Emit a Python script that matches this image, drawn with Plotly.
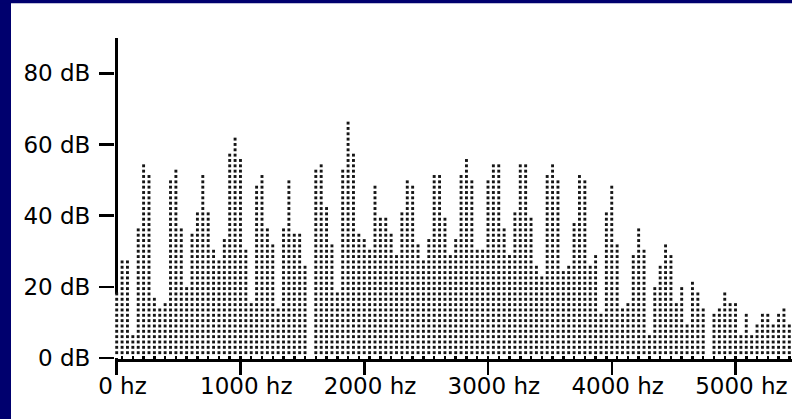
import plotly.graph_objects as go

# ---- data -------------------------------------------------------------
BIN_HZ = 11127 / 256          # spacing of the spectrum bins (Hz)
DOT_DB = 1.5                  # one dot of the dotted columns = 1.5 dB

levels_db = [
    18.0, 27.0, 27.0, 6.0, 36.0, 54.0, 51.0, 16.5, 13.5, 15.0,
    49.5, 52.5, 36.0, 19.5, 34.5, 40.5, 51.0, 40.5, 30.0, 27.0,
    33.0, 57.0, 61.5, 55.5, 30.0, 15.0, 48.0, 51.0, 36.0, 31.5,
    13.5, 36.0, 49.5, 34.5, 34.5, 25.5, 0.0, 52.5, 54.0, 42.0,
    31.5, 18.0, 52.5, 66.0, 57.0, 34.5, 33.0, 30.0, 48.0, 39.0,
    39.0, 34.5, 28.5, 40.5, 49.5, 48.0, 31.5, 27.0, 33.0, 51.0,
    51.0, 39.0, 28.5, 33.0, 51.0, 55.5, 49.5, 30.0, 30.0, 49.5,
    54.0, 54.0, 36.0, 28.5, 40.5, 54.0, 54.0, 39.0, 25.5, 22.5,
    51.0, 54.0, 49.5, 24.0, 25.5, 37.5, 51.0, 49.5, 25.5, 28.5,
    12.0, 40.5, 48.0, 31.5, 13.5, 15.0, 28.5, 36.0, 30.0, 6.0,
    19.5, 25.5, 31.5, 28.5, 15.0, 19.5, 9.0, 21.0, 18.0, 13.5,
    0.0, 12.0, 13.5, 18.0, 15.0, 15.0, 6.0, 12.0, 6.0, 9.0,
    12.0, 12.0, 9.0, 12.0, 13.5, 9.0,
]
freqs_hz = [k * BIN_HZ for k in range(len(levels_db))]

x_tick_vals = [0, 1000, 2000, 3000, 4000, 5000]
y_tick_vals = [0, 20, 40, 60, 80]

# dotted columns: one dot every DOT_DB up to each level
dot_x, dot_y = [], []
for f, v in zip(freqs_hz, levels_db):
    n = int(round(v / DOT_DB))
    for i in range(1, n + 1):
        dot_x.append(f)
        dot_y.append(i * DOT_DB)

# ---- geometry ---------------------------------------------------------
W, H = 792, 419
ML, MR, MT, MB = 115, 0, 38, 60
PW, PH = W - ML - MR, H - MT - MB
PX_PER_HZ = 0.1238
ZERO_HZ_PX = 116.7
x_range = [-(ZERO_HZ_PX - ML) / PX_PER_HZ, (W - MR - ZERO_HZ_PX) / PX_PER_HZ]
PX_PER_DB = 3.559
ZERO_DB_PX = 358.0
y_range = [-(H - MB - ZERO_DB_PX) / PX_PER_DB, (ZERO_DB_PX - MT) / PX_PER_DB]

NAVY = "#00006e"

fig = go.Figure()
# opaque white backing of each column (hides the axis line under bin 0)
fig.add_trace(go.Bar(
    x=freqs_hz, y=levels_db, width=BIN_HZ,
    marker=dict(color="white", line=dict(width=0)),
    hoverinfo="skip",
))
fig.add_trace(go.Scatter(
    x=dot_x, y=dot_y, mode="markers",
    marker=dict(symbol="square", size=2.9, color="#151515", line=dict(width=0)),
    hoverinfo="skip",
))

fig.update_layout(
    width=W, height=H,
    margin=dict(l=ML, r=MR, t=MT, b=MB, pad=0),
    paper_bgcolor="white", plot_bgcolor="white",
    showlegend=False, bargap=0,
    font=dict(family="DejaVu Sans", size=23, color="black"),
    shapes=[
        dict(type="rect", xref="paper", yref="paper", layer="above",
             x0=-ML / PW, x1=(11 - ML) / PW,
             y0=-MB / PH, y1=(H - MB) / PH,
             fillcolor=NAVY, line=dict(width=0)),
        dict(type="rect", xref="paper", yref="paper", layer="above",
             x0=-ML / PW, x1=(W - ML) / PW,
             y0=(H - MB - 3.3) / PH, y1=(H - MB) / PH,
             fillcolor=NAVY, line=dict(width=0)),
    ],
)

fig.update_xaxes(
    range=x_range, showgrid=False,
    zeroline=True, zerolinecolor="black", zerolinewidth=2.5,
    showline=True, linecolor="black", linewidth=2.5,
    tickmode="array", tickvals=x_tick_vals,
    ticktext=["\u2002%d hz" % v for v in x_tick_vals],
    ticks="outside", ticklen=13, tickwidth=2.5, tickcolor="black",
    ticklabelstandoff=-8,
    minor=dict(tickmode="linear", tick0=BIN_HZ, dtick=2 * BIN_HZ,
               ticks="inside", ticklen=3, tickwidth=2.5, tickcolor="black",
               showgrid=False),
)
fig.update_yaxes(
    range=y_range, showgrid=False, zeroline=False, showline=False,
    tickmode="array", tickvals=y_tick_vals,
    ticktext=["%d dB" % v for v in y_tick_vals],
    ticks="outside", ticklen=15, tickwidth=2.5, tickcolor="black",
    ticklabelstandoff=4,
)

fig.write_html(
    "out.html",
    config={"displayModeBar": False, "staticPlot": True},
    post_script="document.body.style.margin='0';",
)
